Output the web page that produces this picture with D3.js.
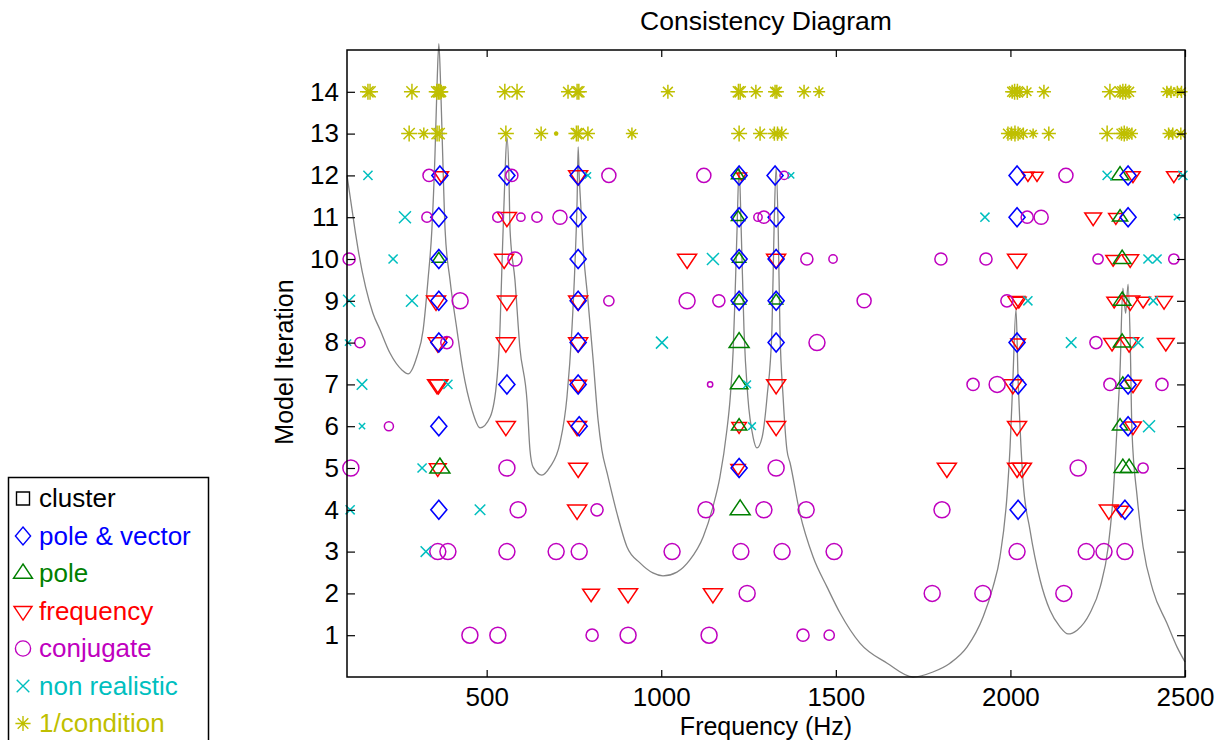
<!DOCTYPE html>
<html>
<head>
<meta charset="utf-8">
<script src="https://cdn.jsdelivr.net/npm/d3@7"></script>
<style>
  html, body { margin: 0; padding: 0; background: #fff; }
  svg { display: block; font-family: "Liberation Sans", Arial, Helvetica, sans-serif; }
</style>
</head>
<body>
<svg id="chart" width="1222" height="740"></svg>
<script>
// ---------------- DATA ----------------
const title = "Consistency Diagram";
const xLabel = "Frequency (Hz)";
const yLabel = "Model Iteration";
const xTicks = [500, 1000, 1500, 2000, 2500];
const yTicks = [1, 2, 3, 4, 5, 6, 7, 8, 9, 10, 11, 12, 13, 14];
const legendLabels = ["cluster", "pole & vector", "pole", "frequency", "conjugate", "non realistic", "1/condition"];

// [frequency Hz, model iteration]
const poleVector = [
  [366,12],[558,12],[762,12],[1223,12],[1326,12],[2019,12],[2337,12],
  [363,11],[762,11],[1223,11],[1329,11],[2019,11],[2337,11],
  [363,10],[762,10],[1223,10],[1329,10],
  [363,9],[762,9],[1223,9],[1329,9],
  [363,8],[762,8],[1329,8],[2019,8],
  [558,7],[762,7],[2022,7],[2337,7],
  [363,6],[765,6],[2337,6],
  [1223,5],
  [363,4],[2022,4],[2328,4]
];
// [frequency Hz, model iteration, relative marker weight]
const pole = [
  [1220,12,2.6],[2314,12,3.5],
  [1220,11,2.6],[2314,11,3],
  [363,10,2.6],[1223,10,2.6],[2320,10,3.5],
  [1223,9,2.6],[1329,9,2.6],[2320,9,3.5],
  [1223,8,4],[2320,8,3.5],
  [1223,7,3.5],[2322,7,3],
  [1223,6,3],[2314,6,3],
  [366,5,4],[2322,5,3.5],[2340,5,3.5],
  [1226,4,4]
];
const frequency = [
  [370,12,3],[762,12,4],[1230,12,2],[2050,12,2.5],[2076,12,2.5],[2351,12,3],[2468,12,3],
  [558,11,4],[2237,11,3.5],[2302,11,3],
  [550,10,4],[1074,10,4],[1329,10,4],[2019,10,4],[2294,10,3],[2343,10,3.5],
  [355,9,4],[558,9,4],[762,9,4],[2017,9,3.5],[2024,9,3],[2297,9,3],[2343,9,4],[2380,9,3],[2440,9,3.5],
  [360,8,4],[555,8,4],[762,8,4],[2022,8,3],[2291,8,3.5],[2340,8,4],[2445,8,3.5],
  [358,7,4],[362,7,4],[762,7,3.5],[1329,7,4],[2007,7,4],[2351,7,3.5],
  [555,6,4],[759,6,4],[1223,6,3],[1329,6,4],[2019,6,4],[2351,6,3.5],
  [360,5,3.5],[762,5,4],[1220,5,3],[1818,5,4],[2019,5,4],[2033,5,4],
  [759,4,4],[2282,4,4],[2317,4,3],
  [799,2,3.5],[905,2,4],[1148,2,4]
];
const conjugate = [
  [335,12,3],[572,12,3],[850,12,3.5],[1122,12,3.5],[1352,12,2],[2159,12,3.5],
  [329,11,2.5],[532,11,2.5],[598,11,2],[644,11,2.5],[710,11,3.5],[1277,11,2],[1294,11,3],[2048,11,3],[2088,11,3.5],
  [106,10,3],[581,10,3.5],[1417,10,3],[1492,10,2],[1801,10,3],[1930,10,3],[2251,10,2.5],[2468,10,2.5],
  [424,9,4],[850,9,2.5],[1074,9,4],[1165,9,3],[1581,9,3.5],[1990,9,3],
  [137,8,2.5],[386,8,3],[1446,8,4],[2245,8,3],
  [1140,7,1.2],[1893,7,3],[1962,7,4],[2285,7,3],[2434,7,3],
  [220,6,2.2],
  [111,5,4],[558,5,4],[1329,5,4],[2194,5,4],[2380,5,2.5],
  [590,4,4],[816,4,3],[1128,4,4],[1294,4,4],[1415,4,4],[1804,4,4],
  [360,3,4],[389,3,4],[558,3,4],[699,3,4],[765,3,4],[1031,3,4],[1228,3,4],[1346,3,4],[1495,3,4],[2019,3,4],[2217,3,4],[2268,3,4],[2328,3,4],
  [1246,2,4],[1776,2,4],[1921,2,4],[2153,2,4],
  [452,1,4],[532,1,4],[802,1,3],[905,1,4],[1137,1,4],[1406,1,3],[1481,1,2.5]
];
const nonRealistic = [
  [160,12,3],[790,12,2],[1372,12,2],[2277,12,3],[2494,12,3],
  [266,11,4],[1927,11,3],[2477,11,2],
  [232,10,3],[1148,10,4],[2394,10,3],[2420,10,3],
  [106,9,4],[286,9,4],[2050,9,3],[2409,9,3],
  [103,8,2],[1002,8,4],[2174,8,3.5],[2366,8,3.5],
  [143,7,3.5],[389,7,3],[1246,7,2.5],
  [143,6,2],[1260,6,2.5],[2397,6,4],
  [315,5,3],
  [109,4,3],[481,4,3.5],
  [326,3,3.5]
];
const condition = [
  [160,14,4],[166,14,4],[286,14,4],[357,14,4],[362,14,4],[366,14,4],[370,14,3.5],[552,14,4],[587,14,4],
  [733,14,3.5],[759,14,4],[764,14,4],[1019,14,3.5],[1221,14,4],[1226,14,4],[1271,14,3.5],[1326,14,3.5],
  [1331,14,3.5],[1409,14,3.5],[1452,14,3],[2005,14,3.5],[2012,14,4],[2020,14,4],[2027,14,3],[2048,14,3],
  [2096,14,3.5],[2285,14,4],[2314,14,3.5],[2322,14,4],[2330,14,4],[2340,14,3.5],[2448,14,3],[2460,14,3],
  [2478,14,3],[2490,14,3],
  [278,13,4],[320,13,3],[358,13,4],[364,13,4],[555,13,4],[656,13,3.5],[699,13,1],[757,13,4],[762,13,4],
  [790,13,3.5],[916,13,3],[1223,13,4],[1283,13,3.5],[1324,13,3.5],[1333,13,3.5],[1345,13,3.5],[1993,13,3.5],
  [2003,13,3.5],[2013,13,4],[2022,13,3.5],[2037,13,3],[2065,13,2.5],[2110,13,3.5],[2277,13,4],[2318,13,3.5],
  [2326,13,4],[2334,13,3.5],[2348,13,3],[2453,13,3],[2465,13,3],[2488,13,3]
];

// Background response curve: frequency (Hz) and level (in iteration units)
const curveFreq = [100,123,132,174,195,223,258,275,300,318,332,343,352,358,363,368,374,381,395,415,432,458,481,510,530,538,544,552,558,564,567,581,595,616,624,633,658,681,710,730,744,753,759,762,765,770,776,790,805,819,830,845,873,902,939,976,1005,1045,1082,1120,1148,1168,1188,1197,1206,1211,1217,1223,1229,1237,1248,1263,1274,1289,1303,1317,1323,1329,1335,1340,1349,1360,1369,1397,1435,1475,1512,1569,1647,1721,1778,1827,1876,1922,1950,1970,1990,1999,2007,2016,2022,2028,2036,2056,2085,2113,2142,2165,2191,2228,2257,2280,2294,2305,2314,2322,2330,2337,2343,2348,2363,2380,2408,2448,2477,2500];
const curveLevel = [12.0,10.69,10.22,8.71,8.30,7.75,7.34,7.25,7.66,8.30,9.50,10.69,12.5,14.2,15.15,14.2,12.5,10.69,9.50,8.30,7.34,6.39,5.96,6.22,7.18,8.30,9.90,11.9,12.92,11.9,10.69,9.50,7.89,6.56,5.43,5.02,4.83,5.02,5.60,6.70,8.30,9.90,11.4,12.68,12.0,11.2,10.3,9.02,7.58,6.15,5.43,4.88,3.92,3.11,2.73,2.49,2.42,2.51,2.80,3.35,4.07,4.78,5.91,6.63,7.82,9.02,10.69,12.2,10.69,8.30,6.70,5.74,5.48,5.74,6.70,8.30,10.69,12.2,10.69,8.30,6.70,5.43,5.12,3.92,2.87,2.15,1.53,0.81,0.33,0.0,0.12,0.33,0.72,1.44,2.15,2.87,4.31,5.50,7.1,8.8,7.1,5.9,4.71,3.52,2.32,1.60,1.20,1.03,1.12,1.53,2.15,3.11,4.31,5.91,7.34,9.3,8.7,9.4,8.06,5.91,4.31,3.11,2.08,1.29,0.72,0.36];

// ---------------- CHART ----------------
const plot = { left: 347, right: 1185, top: 50, bottom: 677 };
const svg = d3.select("#chart");
const FONT = 26;

const x = d3.scaleLinear().domain([100, 2500]).range([plot.left, plot.right]);
const y = d3.scaleLinear().domain([0, 15]).range([plot.bottom, plot.top]);
const weight = d3.scaleLinear().domain([1, 4]).range([0.28, 1]);

const colors = {
  cluster: "#000000", poleVector: "#0000ff", pole: "#008000", frequency: "#ff0000",
  conjugate: "#bf00bf", nonRealistic: "#00bfbf", condition: "#bfbf00"
};

// marker path generators (k = relative size factor)
const markers = {
  square: k => { const a = 6.5 * k; return `M${-a},${-a}H${a}V${a}H${-a}Z`; },
  diamond: k => { const a = 8 * k, b = 9.5 * k; return `M0,${-b}L${a},0L0,${b}L${-a},0Z`; },
  triUp: k => { const a = 10 * k; return `M0,${-a}L${a},${a / 2}L${-a},${a / 2}Z`; },
  triDown: k => { const a = 9.5 * k; return `M0,${a}L${a},${-a / 2}L${-a},${-a / 2}Z`; },
  circle: k => { const r = 8 * k; return `M${r},0A${r},${r} 0 1,1 ${-r},0A${r},${r} 0 1,1 ${r},0Z`; },
  cross: k => { const a = 6 * k; return `M${-a},${-a}L${a},${a}M${-a},${a}L${a},${-a}`; },
  star: k => { const a = 8 * k, b = a * 0.7; return `M${-a},0H${a}M0,${-a}V${a}M${-b},${-b}L${b},${b}M${-b},${b}L${b},${-b}`; }
};

// plot background
svg.append("rect").attr("x", plot.left).attr("y", plot.top)
  .attr("width", plot.right - plot.left).attr("height", plot.bottom - plot.top)
  .attr("fill", "#fff");

// curve
const curvePts = curveFreq.map((f, i) => [f, curveLevel[i]]);
svg.append("path")
  .datum(curvePts)
  .attr("fill", "none")
  .attr("stroke", "#858585")
  .attr("stroke-width", 1.3)
  .attr("d", d3.line().x(d => x(d[0])).y(d => y(d[1])).curve(d3.curveMonotoneX));

function drawSeries(data, shape, color, sw, fixedK) {
  svg.append("g").selectAll("path").data(data).join("path")
    .attr("transform", d => `translate(${x(d[0])},${y(d[1])})`)
    .attr("d", d => markers[shape](fixedK != null ? fixedK : weight(d[2])))
    .attr("fill", "none")
    .attr("stroke", color)
    .attr("stroke-width", sw)
    .attr("stroke-linejoin", "miter");
}

drawSeries(frequency, "triDown", colors.frequency, 1.5);
drawSeries(pole, "triUp", colors.pole, 1.5);
drawSeries(poleVector, "diamond", colors.poleVector, 1.6, 1);
drawSeries(conjugate, "circle", colors.conjugate, 1.5);
drawSeries(nonRealistic, "cross", colors.nonRealistic, 1.5);
drawSeries(condition, "star", colors.condition, 1.5);

// axes
const tickStyle = g => {
  g.select(".domain").remove();
  g.selectAll(".tick line").attr("stroke", "#000").attr("stroke-width", 1.2);
  g.selectAll("text").attr("font-size", FONT).attr("fill", "#000")
    .attr("font-family", "Liberation Sans, Arial, sans-serif");
};
svg.append("g").attr("transform", `translate(0,${plot.bottom})`)
  .call(d3.axisBottom(x).tickValues(xTicks).tickSize(-7).tickPadding(11).tickFormat(d3.format("d")))
  .call(tickStyle);
svg.append("g").attr("transform", `translate(0,${plot.top})`)
  .call(d3.axisTop(x).tickValues(xTicks).tickSize(-7).tickFormat(""))
  .call(tickStyle);
svg.append("g").attr("transform", `translate(${plot.left},0)`)
  .call(d3.axisLeft(y).tickValues(yTicks).tickSize(-8).tickPadding(8).tickFormat(d3.format("d")))
  .call(tickStyle);
svg.append("g").attr("transform", `translate(${plot.right},0)`)
  .call(d3.axisRight(y).tickValues(yTicks).tickSize(-8).tickFormat(""))
  .call(tickStyle);

// frame
svg.append("rect").attr("x", plot.left).attr("y", plot.top)
  .attr("width", plot.right - plot.left).attr("height", plot.bottom - plot.top)
  .attr("fill", "none").attr("stroke", "#000").attr("stroke-width", 1.5);

// titles
svg.append("text").attr("x", (plot.left + plot.right) / 2).attr("y", 30)
  .attr("text-anchor", "middle").attr("font-size", 26.5).text(title);
svg.append("text").attr("x", (plot.left + plot.right) / 2).attr("y", 734.5)
  .attr("text-anchor", "middle").attr("font-size", 25).text(xLabel);
svg.append("text").attr("transform", `translate(293,362) rotate(-90)`)
  .attr("text-anchor", "middle").attr("font-size", 25).text(yLabel);

// legend
const legendColors = [colors.cluster, colors.poleVector, colors.pole, colors.frequency, colors.conjugate, colors.nonRealistic, colors.condition];
const legendShapes = ["square", "diamond", "triUp", "triDown", "circle", "cross", "star"];
const legendScales = [1, 0.95, 0.95, 0.95, 0.95, 1.05, 0.95];
const lg = svg.append("g");
lg.append("rect").attr("x", 8.5).attr("y", 477.5).attr("width", 200).attr("height", 290)
  .attr("fill", "#fff").attr("stroke", "#000").attr("stroke-width", 1.5);
const rowY = d3.scaleLinear().domain([0, 6]).range([498.5, 723.5]);
legendLabels.forEach((lab, i) => {
  lg.append("path")
    .attr("transform", `translate(23,${rowY(i)})`)
    .attr("d", markers[legendShapes[i]](legendScales[i]))
    .attr("fill", "none").attr("stroke", legendColors[i]).attr("stroke-width", 1.4);
  lg.append("text").attr("x", 39).attr("y", rowY(i) + 8.5)
    .attr("font-size", 26).attr("fill", legendColors[i]).text(lab);
});
</script>
</body>
</html>
